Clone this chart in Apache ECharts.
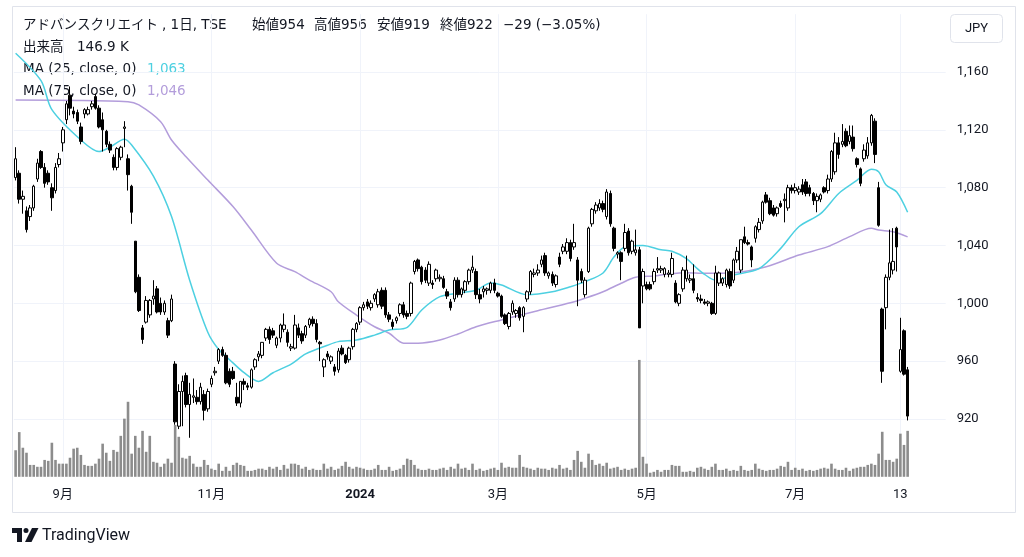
<!DOCTYPE html>
<html><head><meta charset="utf-8">
<script src="https://cdn.jsdelivr.net/npm/echarts@6/dist/echarts.min.js"></script>
<style>html,body{margin:0;padding:0;background:#fff;}#c{width:1024px;height:557px;}</style>
</head><body><div id="c"></div>
<script>
// ---------- DATA ----------
const openP = [1087,1090,1072,1064,1060,1066,1086,1105,1094,1090,1080,1078,1096,1111,1127,1144,1133,1132,1122,1131,1131,1136,1143,1135,1127,1119,1110,1101,1094,1101,1121,1100,1081,1043,1018,983,987,992,1003,1010,1000,994,988,988,958,915,939,950,930,935,935,932,937,927,944,952,960,968,964,953,953,935,931,946,943,942,956,963,964,976,982,981,971,976,982,980,969,969,983,979,978,985,989,986,973,956,965,960,956,954,969,964,961,970,982,987,997,1001,997,1003,999,1009,1009,992,987,988,993,999,993,993,1022,1030,1025,1023,1014,1014,1017,1017,1017,1008,1001,1003,1016,1006,1009,1015,1023,1022,1006,1008,1009,1009,1014,1007,1005,992,984,994,993,997,991,1003,1008,1020,1021,1027,1033,1019,1020,1013,1032,1036,1036,1042,1039,1030,1022,1006,1022,1055,1064,1066,1069,1060,1076,1052,1034,1035,1038,1050,1036,1035,1037,1012,1013,1013,1015,1023,1023,1020,1020,1020,1014,1000,1010,1017,1016,1017,1004,1003,1001,1000,1000,993,1014,1014,1013,1022,1016,1030,1023,1046,1042,1039,1045,1051,1057,1075,1071,1066,1062,1069,1071,1066,1080,1078,1077,1082,1084,1080,1076,1071,1072,1080,1078,1086,1091,1111,1110,1119,1112,1115,1100,1093,1100,1102,1111,1126,1080,996,997,1018,1023,1052,953,981,954];
const highP = [1108,1092,1078,1067,1068,1082,1100,1106,1097,1092,1083,1097,1104,1122,1140,1150,1136,1134,1125,1135,1136,1140,1145,1137,1132,1120,1112,1103,1108,1109,1126,1103,1082,1043,1020,985,1005,1003,1016,1012,1004,1002,990,1006,960,944,950,952,945,948,940,945,940,941,950,956,969,970,966,955,956,945,946,948,945,955,962,967,973,983,984,983,977,986,993,982,972,992,986,981,985,990,991,989,974,962,967,964,958,969,971,965,970,983,987,998,1001,1003,1002,1007,1010,1011,1011,994,989,991,1000,1001,995,1015,1030,1031,1026,1025,1029,1016,1024,1020,1019,1010,1003,1018,1018,1011,1016,1024,1033,1024,1010,1012,1011,1015,1017,1008,1006,993,994,1002,996,998,998,1009,1023,1024,1027,1033,1035,1022,1022,1020,1035,1041,1045,1044,1055,1032,1024,1018,1053,1066,1070,1072,1071,1079,1078,1053,1036,1036,1055,1052,1044,1051,1039,1024,1015,1015,1024,1032,1026,1025,1023,1035,1016,1007,1025,1033,1020,1027,1007,1006,1003,1002,1001,1026,1022,1018,1024,1024,1031,1039,1044,1053,1044,1040,1054,1059,1071,1077,1073,1068,1067,1071,1076,1082,1082,1083,1081,1086,1086,1082,1077,1076,1076,1081,1089,1106,1118,1115,1124,1121,1123,1123,1101,1094,1110,1115,1131,1128,1084,997,1020,1051,1052,1053,990,982,956];
const lowP = [1085,1069,1062,1049,1057,1064,1084,1093,1080,1082,1064,1076,1094,1105,1124,1130,1128,1124,1110,1128,1130,1134,1134,1121,1105,1108,1104,1092,1092,1099,1108,1078,1055,1007,994,972,986,990,999,993,992,992,976,987,916,913,915,928,907,931,930,930,919,925,942,950,958,963,944,942,947,929,928,940,940,941,954,960,962,974,972,976,969,973,980,970,967,968,976,972,976,983,984,973,960,949,961,958,950,952,964,958,959,968,980,985,995,996,995,1001,997,996,990,987,982,986,991,990,989,991,1020,1022,1013,1014,1012,1010,1015,1015,1010,1003,995,1001,1004,1004,1007,1013,1021,1003,1000,1004,1006,1007,1007,1004,990,985,982,992,990,988,980,1001,1006,1018,1019,1025,1019,1017,1012,1011,1025,1034,1034,1029,1037,998,1014,1004,1021,1053,1062,1064,1063,1058,1053,1036,1031,1016,1036,1033,1034,1033,983,1000,1009,1009,1013,1021,1021,1018,1018,1018,1000,998,1008,1015,1014,1007,1001,1000,999,998,992,992,1012,1012,1011,1010,1014,1028,1021,1041,1040,1025,1042,1049,1055,1069,1061,1060,1060,1066,1056,1064,1076,1076,1075,1075,1074,1074,1068,1063,1070,1076,1076,1084,1089,1100,1108,1108,1110,1105,1094,1081,1098,1100,1109,1097,1053,945,982,1016,1020,1022,952,950,919];
const closeP = [1100,1072,1074,1051,1066,1081,1097,1094,1083,1084,1073,1094,1100,1120,1138,1135,1131,1126,1112,1134,1134,1138,1135,1122,1120,1110,1106,1094,1107,1108,1122,1089,1063,1008,995,975,1002,1002,1005,994,994,1000,978,1003,918,939,946,930,937,936,932,942,926,939,948,953,968,964,945,944,948,931,946,944,942,954,961,965,973,982,975,978,976,985,985,973,970,985,978,974,984,989,986,975,972,961,963,963,953,967,965,959,969,982,986,997,999,998,1000,1006,1008,998,992,989,984,990,999,992,991,1014,1029,1024,1015,1016,1027,1013,1023,1018,1011,1005,997,1016,1006,1010,1015,1023,1025,1006,1003,1010,1010,1014,1009,1005,991,986,993,1000,995,990,997,1008,1022,1021,1023,1030,1021,1021,1014,1019,1027,1039,1042,1031,1042,1016,1016,1016,1052,1065,1068,1069,1065,1077,1055,1038,1035,1029,1049,1035,1043,1037,983,1022,1010,1010,1022,1024,1024,1024,1021,1031,1001,1006,1023,1023,1017,1009,1003,1002,1000,1001,993,1021,1021,1017,1023,1012,1030,1036,1044,1042,1041,1030,1053,1056,1070,1070,1062,1061,1066,1067,1072,1080,1078,1080,1079,1077,1076,1076,1071,1074,1075,1077,1086,1105,1111,1103,1112,1109,1116,1107,1096,1083,1106,1111,1130,1103,1054,953,1018,1028,1029,1039,968,951,922];
// volume, thousands of shares
const volumeK = [85,143,93,77,38,38,32,32,54,51,109,54,42,42,42,61,90,93,70,38,35,35,42,58,106,77,51,86,80,131,186,240,74,131,93,147,80,131,48,45,32,42,58,45,166,128,61,58,67,42,32,32,54,38,26,22,42,19,32,19,38,45,38,35,19,19,22,26,
26,22,32,26,32,22,38,26,42,42,38,26,32,22,26,22,22,42,26,32,22,26,35,48,32,26,32,29,26,22,22,26,38,22,22,32,19,22,26,38,58,54,38,26,22,22,26,22,22,26,29,22,32,26,42,26,29,22,42,
22,26,19,22,26,29,22,45,29,32,29,29,70,32,29,26,22,29,26,26,22,29,26,38,26,29,22,54,83,48,29,74,54,38,42,35,45,26,29,32,22,26,22,26,29,374,64,42,13,16,22,16,22,22,38,35,35,16,16,19,16,29,32,
26,22,32,42,22,22,26,19,22,19,35,22,19,22,42,26,22,19,22,22,26,35,32,48,22,29,22,26,19,22,19,22,26,29,26,42,26,22,22,29,19,26,29,32,32,38,42,38,74,144,54,54,48,58,138,102,147];
// moving averages as drawn on the reference: [bar index, value]
const ma25Idx = [0,7,10,18,23,26,30,32,38,43,48,53,56,59,63,67,71,76,80,86,89,94,99,103,108,112,117,122,127,131,134,141,148,153,157,162,165,168,173,178,181,185,188,190,193,198,205,211,216,222,227,232,236,238,240,243,246];
const ma25Val = [1173,1154,1134,1113,1105,1108,1113.5,1109.5,1088,1060,1016,980,968,961,952,946,952,958,965,971,973.5,974.6,978,981.5,983.4,995.4,1004.6,1007,1009,1014,1012.7,1006,1008,1011.5,1015,1021,1032,1039,1040,1037,1036,1031,1024,1020,1016,1019.6,1024,1038,1053,1062,1076,1085,1092.7,1091,1082,1077,1063];
const ma75Idx = [0,31,34,40,43,47,53,60,65,72,77,81,87,89,94,99,103,107,111,117,122,127,134,144,153,157,162,167,171,176,180,185,190,198,207,216,224,230,236,238,242,246];
const ma75Val = [1140.6,1139.5,1137.2,1125.6,1113,1101.4,1085.3,1066.8,1050.7,1027.7,1021.9,1016.1,1008,1001.1,991.9,983.8,979.3,972.4,972.4,974.6,978.8,983.8,988.5,994.9,1000.4,1003.5,1008,1013.9,1018,1018.9,1020.3,1021.2,1020.8,1021.2,1025.3,1033.4,1039.2,1046.1,1051.9,1050.7,1049.5,1046];
const holidays = ['2023-09-18','2023-10-09','2023-11-03','2023-11-23','2024-01-01','2024-01-02','2024-01-03','2024-01-08','2024-02-12','2024-02-23','2024-03-20','2024-04-29','2024-05-03','2024-05-06','2024-07-15','2024-08-12'];
const firstDay = '2023-08-15';
const xTickDates = ['2023-09-01','2023-11-01','2024-01-04','2024-03-01','2024-05-01','2024-07-01','2024-08-13'];
const xTickLabels = ['9月','11月','2024','3月','5月','7月','13'];
const yTicks = [920,960,1000,1040,1080,1120,1160];
const legendName = 'アドバンスクリエイト';
const legendSuffix = ', 1日, TSE';
const legendOHLC = [['始値','954'],['高値','956'],['安値','919'],['終値','922']];
const legendChange = '−29 (−3.05%)';
const volumeLabel = ['出来高','146.9 K'];
const maLabels = [['MA (25, close, 0)','1,063'],['MA (75, close, 0)','1,046']];

// ---------- BUILD ----------
const N = closeP.length;
const PAD = 10;
const hol = new Set(holidays);
const dates = [];
{ let d = new Date(firstDay + 'T00:00:00Z');
  while (dates.length < N) { const w = d.getUTCDay(); const s = d.toISOString().slice(0,10);
    if (w !== 0 && w !== 6 && !hol.has(s)) dates.push(s); d.setUTCDate(d.getUTCDate() + 1); } }
for (let k = 0; k < PAD; k++) dates.push('pad' + k);
const tickIdx = xTickDates.map(s => dates.indexOf(s));
const tickMap = {}; tickIdx.forEach((ix, k) => tickMap[ix] = xTickLabels[k]);

const candle = openP.map((o, i) => [o, closeP[i], lowP[i], highP[i]]);
const ma25 = ma25Idx.map((ix, k) => [ix, ma25Val[k]]);
const ma75 = ma75Idx.map((ix, k) => [ix, ma75Val[k]]);

const FONT = 'Roboto, "Noto Sans CJK JP", sans-serif';
const LFONT = '13.5px "DejaVu Sans", "Noto Sans CJK JP", sans-serif';
const TXT = '#131722';
const GRIDC = '#f0f3fa';
const G = {left: 13.8, top: 14.2, width: 931.9, height: 462.6};

const chart = echarts.init(document.getElementById('c'), null, {renderer: 'canvas'});

const legendEls = [];
function txt(x, y, s, color) {
  legendEls.push({type: 'text', x: x, y: y, z: 0, silent: true,
    style: {text: s, fill: color || TXT, font: LFONT, verticalAlign: 'middle'}});
}
txt(23, 25, legendName);
txt(162, 25, legendSuffix);
const ohlcX = [252, 314, 377, 440];
legendOHLC.forEach((p, k) => txt(ohlcX[k], 25, p[0] + p[1]));
txt(503, 25, legendChange);
txt(23, 47, volumeLabel[0]); txt(77, 47, volumeLabel[1]);
txt(23, 69, maLabels[0][0]); txt(147, 69, maLabels[0][1], '#4dd0e1');
txt(23, 91, maLabels[1][0]); txt(147, 91, maLabels[1][1], '#b39ddb');

const graphics = [
  {type: 'rect', z: 100, silent: true, shape: {x: 12.5, y: 6.5, width: 1003, height: 506}, style: {fill: 'none', stroke: '#e0e3eb', lineWidth: 1}},
  {type: 'rect', z: 100, silent: true, shape: {x: 950.5, y: 14.5, width: 52, height: 28, r: 4}, style: {fill: '#fff', stroke: '#e0e3eb', lineWidth: 1}},
  {type: 'text', z: 101, silent: true, x: 976.5, y: 28.5, style: {text: 'JPY', fill: TXT, font: '13px ' + FONT, align: 'center', verticalAlign: 'middle'}},
  {type: 'polygon', z: 100, silent: true, shape: {points: [[12,528],[22,528],[22,542],[17,542],[17,533],[12,533]]}, style: {fill: TXT}},
  {type: 'circle', z: 100, silent: true, shape: {cx: 26, cy: 530.5, r: 2.5}, style: {fill: TXT}},
  {type: 'polygon', z: 100, silent: true, shape: {points: [[32,528],[38.5,528],[31.5,542],[25,542]]}, style: {fill: TXT}},
  {type: 'text', z: 100, silent: true, x: 42, y: 535.5, style: {text: 'TradingView', fill: TXT, font: '16px ' + FONT, verticalAlign: 'middle'}}
].concat(legendEls);

chart.setOption({
  animation: false,
  backgroundColor: '#ffffff',
  grid: [Object.assign({}, G), Object.assign({}, G)],
  xAxis: [
    {type: 'category', gridIndex: 0, data: dates, boundaryGap: true,
     axisLine: {show: false}, axisTick: {show: false}, splitLine: {show: false},
     axisLabel: {interval: (i) => tickMap[i] !== undefined, formatter: (v, i) => (tickMap[i] === '2024' ? '{b|2024}' : (tickMap[i] || '')),
                 color: TXT, fontSize: 13, fontFamily: FONT, margin: 11, rich: {b: {fontWeight: 'bold', fontSize: 13, fontFamily: FONT, color: TXT}}}},
    {type: 'category', gridIndex: 1, data: dates, boundaryGap: true, show: false}
  ],
  yAxis: [
    {type: 'value', gridIndex: 0, position: 'right', min: 880, max: 1200, interval: 40, scale: true,
     axisLine: {show: false}, axisTick: {show: false}, splitLine: {show: false},
     axisLabel: {color: TXT, fontSize: 13, fontFamily: FONT, margin: 11,
                 formatter: (v) => (yTicks.indexOf(v) >= 0 ? v.toLocaleString('en-US') : '')}},
    {type: 'value', gridIndex: 1, min: 0, max: 1480, show: false}
  ],
  graphic: graphics,
  series: [
    {type: 'bar', name: 'vol', xAxisIndex: 1, yAxisIndex: 1, data: volumeK, barWidth: 2.6, z: 1,
     itemStyle: {color: '#8c8c8c'}, silent: true},
    {type: 'line', name: 'grid', xAxisIndex: 0, yAxisIndex: 0, data: [], z: 0, silent: true,
     markLine: {silent: true, symbol: 'none', z: 0, animation: false, label: {show: false}, lineStyle: {color: GRIDC, width: 1, type: 'solid'},
                data: yTicks.map(v => ({yAxis: v})).concat(tickIdx.map(ix => ({xAxis: ix})))}},
    {type: 'line', name: 'MA75', xAxisIndex: 0, yAxisIndex: 0, data: ma75, smooth: 0.3, showSymbol: false, z: 3,
     lineStyle: {color: '#b39ddb', width: 1.5}, silent: true},
    {type: 'line', name: 'MA25', xAxisIndex: 0, yAxisIndex: 0, data: ma25, smooth: 0.3, showSymbol: false, z: 3,
     lineStyle: {color: '#4dd0e1', width: 1.5}, silent: true},
    {type: 'candlestick', name: 'price', xAxisIndex: 0, yAxisIndex: 0, data: candle, barWidth: 3, z: 4, silent: true,
     itemStyle: {color: '#ffffff', color0: '#000000', borderColor: '#000000', borderColor0: '#000000', borderWidth: 1}}
  ]
});
</script></body></html>
